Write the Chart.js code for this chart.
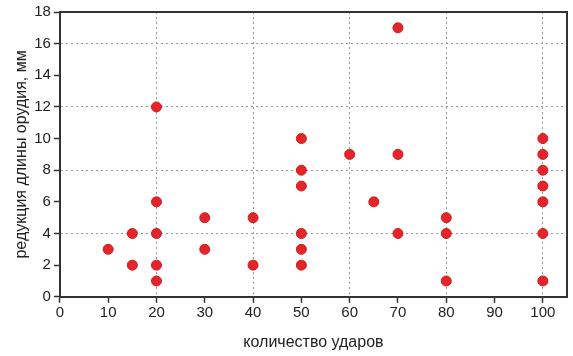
<!DOCTYPE html>
<html>
<head>
<meta charset="utf-8">
<script src="https://cdn.jsdelivr.net/npm/chart.js@4"></script>
<style>
  html, body { margin: 0; padding: 0; background: #fff; }
  #wrap { width: 573px; height: 356px; }
</style>
</head>
<body>
<div id="wrap"><canvas id="blows"></canvas></div>
<script>
const blows = [10, 15, 15, 20, 20, 20, 20, 20, 30, 30, 40, 40, 50, 50, 50, 50, 50, 50, 60, 65, 70, 70, 70, 80, 80, 80, 100, 100, 100, 100, 100, 100, 100];
const shortening = [3, 4, 2, 12, 6, 4, 2, 1, 5, 3, 5, 2, 10, 8, 7, 4, 3, 2, 9, 6, 17, 9, 4, 5, 4, 1, 10, 9, 8, 7, 6, 4, 1];
const xTicks = [0, 10, 20, 30, 40, 50, 60, 70, 80, 90, 100];
const yTicks = [0, 2, 4, 6, 8, 10, 12, 14, 16, 18];

const axisColor = "#333333";
const gridColor = "#9a9a9a";

const framePlugin = {
  id: "frame",
  afterDraw(chart) {
    const { ctx, chartArea } = chart;
    ctx.save();
    ctx.strokeStyle = axisColor;
    ctx.lineWidth = 2;
    ctx.beginPath();
    ctx.moveTo(chartArea.left, chartArea.top);
    ctx.lineTo(chartArea.right, chartArea.top);
    ctx.lineTo(chartArea.right, chartArea.bottom);
    ctx.stroke();
    ctx.restore();
  },
};

const ctx = document.getElementById("blows");
new Chart(ctx, {
  type: "scatter",
  data: {
    datasets: [
      {
        data: blows.map((x, i) => ({ x: x, y: shortening[i] })),
        backgroundColor: "#e52428",
        borderColor: "#c91d21",
        borderWidth: 1,
        pointRadius: 5,
      },
    ],
  },
  options: {
    responsive: true,
    maintainAspectRatio: false,
    animation: false,
    layout: {
      padding: { top: 0, right: 6, left: 8, bottom: 0 },
    },
    plugins: {
      legend: { display: false },
      tooltip: { enabled: false },
    },
    scales: {
      x: {
        type: "linear",
        min: 0,
        max: 105,
        afterBuildTicks: function (axis) {
          axis.ticks = xTicks.map((v) => ({ value: v }));
        },
        ticks: {
          color: "#222",
          font: { family: "Liberation Sans, Arial", size: 15 },
          padding: 1,
          maxRotation: 0,
        },
        grid: {
          color: function (c) {
            const v = c.tick ? c.tick.value : 0;
            return v > 0 && v % 20 === 0 ? gridColor : "rgba(0,0,0,0)";
          },
          lineWidth: 1,
          tickColor: axisColor,
          tickLength: 6,
          tickWidth: 1.5,
          tickBorderDash: [],
        },
        border: { color: axisColor, width: 2, dash: [2, 3] },
        title: {
          display: true,
          text: "количество ударов",
          color: "#222",
          font: { family: "Liberation Sans, Arial", size: 16 },
          padding: { top: 10 },
        },
      },
      y: {
        min: 0,
        max: 18,
        afterBuildTicks: function (axis) {
          axis.ticks = yTicks.map((v) => ({ value: v }));
        },
        ticks: {
          color: "#222",
          font: { family: "Liberation Sans, Arial", size: 15 },
          padding: 3,
        },
        grid: {
          color: function (c) {
            const v = c.tick ? c.tick.value : 0;
            return v > 0 && v < 18 && v % 4 === 0 ? gridColor : "rgba(0,0,0,0)";
          },
          lineWidth: 1,
          tickColor: axisColor,
          tickLength: 6,
          tickWidth: 1.5,
          tickBorderDash: [],
        },
        border: { color: axisColor, width: 2, dash: [2, 3] },
        title: {
          display: true,
          text: "редукция длины орудия, мм",
          color: "#222",
          font: { family: "Liberation Sans, Arial", size: 16 },
          padding: { bottom: 0 },
        },
      },
    },
  },
  plugins: [framePlugin],
});
</script>
</body>
</html>
